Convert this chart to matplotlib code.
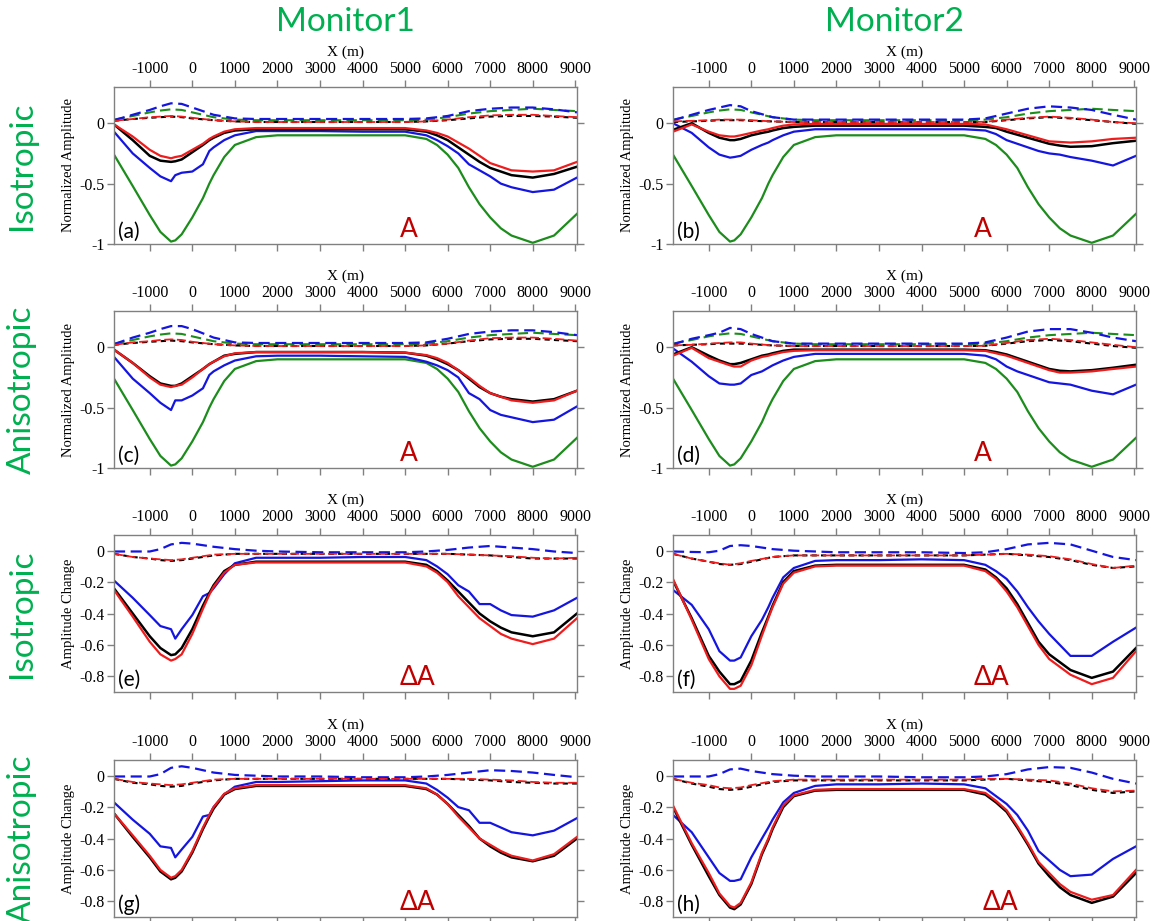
import matplotlib
matplotlib.use("Agg")
import matplotlib.pyplot as plt

plt.rcParams['axes.unicode_minus'] = False
plt.rcParams['font.family'] = ['Liberation Serif', 'DejaVu Serif']

# x positions (m) for the solid curves and for the dashed curves
X = [-1840, -1400, -1000, -750, -500, -400, -250, 0, 250, 400, 500, 750, 1000, 1500, 2000,
     3000, 4000, 5000, 5500, 5750, 6000, 6250, 6500, 6750, 7000, 7250, 7500, 8000, 8500, 9040]
XC = [-1840, -1400, -1000, -750, -500, -250, 0, 500, 1000, 1500, 2000, 3000, 4000, 5000,
      5500, 6000, 6500, 7000, 7500, 8000, 8500, 9040]

# baseline (green) shared by the four amplitude panels
green_a = [-0.26, -0.52, -0.76, -0.90, -0.98, -0.97, -0.92, -0.78, -0.62, -0.50, -0.43, -0.28, -0.18, -0.115, -0.10,
           -0.10, -0.10, -0.10, -0.13, -0.18, -0.26, -0.37, -0.53, -0.67, -0.78, -0.87, -0.93, -0.99, -0.93, -0.75]
green_a_dash = [0.03, 0.06, 0.09, 0.105, 0.115, 0.11, 0.09, 0.05, 0.03, 0.025, 0.025, 0.025, 0.025, 0.025,
                0.03, 0.05, 0.08, 0.10, 0.11, 0.12, 0.11, 0.10]

# (a) isotropic, monitor1
a_blue = [-0.07, -0.25, -0.37, -0.44, -0.48, -0.43, -0.41, -0.40, -0.34, -0.23, -0.20, -0.14, -0.10, -0.065, -0.065,
          -0.065, -0.07, -0.07, -0.10, -0.14, -0.19, -0.25, -0.34, -0.39, -0.44, -0.50, -0.53, -0.57, -0.55, -0.45]
a_black = [-0.01, -0.14, -0.27, -0.31, -0.32, -0.315, -0.30, -0.24, -0.18, -0.14, -0.12, -0.08, -0.06, -0.05, -0.05,
           -0.05, -0.05, -0.05, -0.07, -0.10, -0.14, -0.20, -0.26, -0.32, -0.37, -0.40, -0.43, -0.45, -0.42, -0.36]
a_red = [-0.01, -0.11, -0.22, -0.27, -0.29, -0.28, -0.27, -0.22, -0.17, -0.13, -0.11, -0.07, -0.05, -0.04, -0.04,
         -0.04, -0.04, -0.04, -0.06, -0.08, -0.11, -0.16, -0.21, -0.27, -0.33, -0.36, -0.39, -0.40, -0.39, -0.32]
a_blue_dash = [0.025, 0.07, 0.11, 0.14, 0.165, 0.16, 0.13, 0.07, 0.04, 0.035, 0.035, 0.035, 0.035, 0.035,
               0.04, 0.06, 0.10, 0.12, 0.13, 0.13, 0.115, 0.09]
a_black_dash = [0.02, 0.035, 0.045, 0.05, 0.055, 0.05, 0.04, 0.025, 0.015, 0.01, 0.01, 0.01, 0.01, 0.01,
                0.015, 0.025, 0.04, 0.055, 0.06, 0.06, 0.055, 0.045]
a_red_dash = [0.02, 0.035, 0.05, 0.055, 0.06, 0.055, 0.045, 0.025, 0.015, 0.01, 0.01, 0.01, 0.01, 0.01,
              0.015, 0.03, 0.05, 0.065, 0.07, 0.07, 0.06, 0.05]

# (b) isotropic, monitor2
b_blue = [0.0, -0.08, -0.20, -0.26, -0.285, -0.28, -0.27, -0.22, -0.18, -0.16, -0.14, -0.10, -0.07, -0.05, -0.05,
          -0.05, -0.05, -0.05, -0.06, -0.09, -0.14, -0.17, -0.20, -0.23, -0.25, -0.26, -0.28, -0.31, -0.35, -0.27]
b_black = [-0.055, 0.0, -0.08, -0.12, -0.14, -0.14, -0.13, -0.10, -0.08, -0.07, -0.06, -0.04, -0.03, -0.02, -0.02,
           -0.02, -0.02, -0.02, -0.03, -0.04, -0.07, -0.095, -0.12, -0.145, -0.17, -0.185, -0.195, -0.19, -0.165, -0.145]
b_red = [-0.07, -0.01, -0.07, -0.10, -0.11, -0.11, -0.10, -0.08, -0.06, -0.05, -0.04, -0.02, -0.01, -0.005, -0.005,
         -0.005, -0.005, -0.005, -0.01, -0.03, -0.05, -0.075, -0.10, -0.125, -0.15, -0.155, -0.16, -0.15, -0.13, -0.12]
b_blue_dash = [0.025, 0.07, 0.11, 0.13, 0.15, 0.14, 0.10, 0.05, 0.03, 0.03, 0.03, 0.03, 0.03, 0.03,
               0.04, 0.08, 0.12, 0.14, 0.13, 0.11, 0.07, 0.03]
b_black_dash = [0.01, 0.015, 0.02, 0.025, 0.025, 0.025, 0.02, 0.015, 0.01, 0.01, 0.01, 0.01, 0.01, 0.01,
                0.01, 0.025, 0.04, 0.05, 0.04, 0.025, 0.01, -0.005]
b_red_dash = [0.015, 0.02, 0.025, 0.03, 0.03, 0.03, 0.025, 0.015, 0.01, 0.01, 0.01, 0.01, 0.01, 0.01,
              0.012, 0.03, 0.045, 0.055, 0.045, 0.03, 0.01, 0.0]

# (c) anisotropic, monitor1
c_blue = [-0.08, -0.26, -0.38, -0.46, -0.52, -0.44, -0.44, -0.40, -0.34, -0.23, -0.20, -0.15, -0.11, -0.075, -0.07,
          -0.07, -0.075, -0.08, -0.12, -0.15, -0.19, -0.25, -0.38, -0.43, -0.52, -0.56, -0.58, -0.62, -0.60, -0.49]
c_black = [-0.02, -0.13, -0.24, -0.30, -0.32, -0.32, -0.30, -0.24, -0.18, -0.14, -0.12, -0.07, -0.055, -0.04, -0.04,
           -0.04, -0.04, -0.045, -0.07, -0.10, -0.14, -0.19, -0.26, -0.33, -0.38, -0.41, -0.43, -0.45, -0.43, -0.36]
c_red = [-0.02, -0.13, -0.25, -0.31, -0.33, -0.32, -0.31, -0.25, -0.18, -0.14, -0.12, -0.075, -0.05, -0.04, -0.04,
         -0.04, -0.04, -0.045, -0.065, -0.09, -0.13, -0.19, -0.25, -0.32, -0.38, -0.41, -0.44, -0.46, -0.44, -0.36]
c_blue_dash = [0.025, 0.08, 0.12, 0.15, 0.175, 0.175, 0.15, 0.08, 0.04, 0.035, 0.035, 0.035, 0.035, 0.035,
               0.04, 0.07, 0.11, 0.13, 0.14, 0.14, 0.125, 0.10]
c_black_dash = [0.02, 0.035, 0.045, 0.05, 0.055, 0.05, 0.04, 0.025, 0.015, 0.01, 0.01, 0.01, 0.01, 0.01,
                0.015, 0.03, 0.05, 0.065, 0.07, 0.07, 0.06, 0.05]
c_red_dash = [0.02, 0.04, 0.05, 0.06, 0.065, 0.06, 0.045, 0.025, 0.015, 0.01, 0.01, 0.01, 0.01, 0.01,
              0.015, 0.03, 0.055, 0.075, 0.08, 0.08, 0.07, 0.055]

# (d) anisotropic, monitor2
d_blue = [-0.01, -0.12, -0.24, -0.30, -0.31, -0.31, -0.30, -0.23, -0.20, -0.17, -0.15, -0.11, -0.08, -0.055, -0.055,
          -0.055, -0.055, -0.055, -0.07, -0.10, -0.16, -0.20, -0.23, -0.26, -0.29, -0.30, -0.31, -0.36, -0.39, -0.31]
d_black = [-0.06, 0.0, -0.07, -0.11, -0.14, -0.14, -0.13, -0.10, -0.07, -0.06, -0.05, -0.03, -0.02, -0.02, -0.02,
           -0.02, -0.02, -0.02, -0.025, -0.04, -0.06, -0.09, -0.12, -0.15, -0.18, -0.195, -0.20, -0.19, -0.17, -0.145]
d_red = [-0.07, -0.005, -0.09, -0.12, -0.15, -0.16, -0.16, -0.11, -0.08, -0.07, -0.06, -0.04, -0.03, -0.025, -0.025,
         -0.025, -0.025, -0.025, -0.03, -0.05, -0.07, -0.10, -0.13, -0.16, -0.19, -0.21, -0.21, -0.20, -0.18, -0.16]
d_blue_dash = [0.025, 0.07, 0.10, 0.12, 0.16, 0.15, 0.11, 0.05, 0.03, 0.03, 0.03, 0.03, 0.03, 0.03,
               0.04, 0.08, 0.13, 0.15, 0.15, 0.12, 0.08, 0.05]
d_black_dash = [0.015, 0.02, 0.025, 0.03, 0.03, 0.03, 0.025, 0.015, 0.01, 0.01, 0.01, 0.01, 0.01, 0.01,
                0.012, 0.03, 0.05, 0.06, 0.05, 0.03, 0.01, -0.005]
d_red_dash = [0.015, 0.02, 0.03, 0.035, 0.04, 0.04, 0.03, 0.015, 0.01, 0.01, 0.01, 0.01, 0.01, 0.01,
              0.012, 0.035, 0.06, 0.07, 0.06, 0.04, 0.02, 0.0]

# (e) isotropic, monitor1, amplitude change
e_blue = [-0.19, -0.30, -0.41, -0.48, -0.50, -0.56, -0.50, -0.41, -0.29, -0.27, -0.24, -0.15, -0.08, -0.045, -0.045,
          -0.045, -0.04, -0.04, -0.06, -0.10, -0.15, -0.22, -0.26, -0.34, -0.34, -0.38, -0.41, -0.42, -0.38, -0.30]
e_black = [-0.24, -0.40, -0.545, -0.62, -0.665, -0.66, -0.62, -0.50, -0.35, -0.27, -0.22, -0.13, -0.09, -0.07, -0.07,
           -0.07, -0.07, -0.07, -0.09, -0.13, -0.19, -0.26, -0.33, -0.40, -0.45, -0.49, -0.52, -0.545, -0.52, -0.40]
e_red = [-0.25, -0.42, -0.58, -0.66, -0.70, -0.69, -0.66, -0.53, -0.37, -0.28, -0.23, -0.14, -0.09, -0.075, -0.075,
         -0.075, -0.075, -0.075, -0.10, -0.14, -0.20, -0.29, -0.36, -0.43, -0.48, -0.53, -0.56, -0.595, -0.56, -0.43]
e_blue_dash = [-0.005, -0.005, -0.005, 0.01, 0.04, 0.05, 0.045, 0.025, 0.01, 0.0, -0.005, -0.01, -0.01, -0.01,
               -0.005, 0.005, 0.02, 0.03, 0.02, 0.01, -0.005, -0.015]
e_black_dash = [-0.02, -0.04, -0.05, -0.06, -0.065, -0.06, -0.05, -0.03, -0.02, -0.02, -0.02, -0.02, -0.02, -0.02,
                -0.02, -0.02, -0.025, -0.03, -0.04, -0.05, -0.05, -0.05]
e_red_dash = [-0.02, -0.04, -0.05, -0.055, -0.06, -0.055, -0.045, -0.025, -0.02, -0.02, -0.02, -0.02, -0.02, -0.02,
              -0.02, -0.02, -0.025, -0.03, -0.035, -0.045, -0.05, -0.045]

# (f) isotropic, monitor2, amplitude change
f_blue = [-0.25, -0.345, -0.50, -0.64, -0.70, -0.70, -0.68, -0.545, -0.44, -0.36, -0.30, -0.17, -0.11, -0.065, -0.06,
          -0.06, -0.055, -0.06, -0.09, -0.13, -0.18, -0.26, -0.36, -0.45, -0.53, -0.60, -0.67, -0.67, -0.58, -0.49]
f_black = [-0.19, -0.43, -0.67, -0.77, -0.85, -0.85, -0.83, -0.70, -0.52, -0.42, -0.35, -0.20, -0.13, -0.095, -0.09,
           -0.09, -0.09, -0.09, -0.12, -0.17, -0.24, -0.34, -0.46, -0.58, -0.66, -0.71, -0.76, -0.81, -0.77, -0.62]
f_red = [-0.18, -0.44, -0.69, -0.80, -0.88, -0.88, -0.86, -0.73, -0.54, -0.43, -0.36, -0.21, -0.14, -0.10, -0.095,
         -0.095, -0.095, -0.095, -0.13, -0.18, -0.26, -0.36, -0.48, -0.60, -0.69, -0.74, -0.79, -0.85, -0.81, -0.64]
f_blue_dash = [-0.005, -0.008, -0.01, 0.0, 0.03, 0.035, 0.03, 0.01, 0.0, -0.005, -0.01, -0.01, -0.01, -0.015,
               -0.01, 0.01, 0.04, 0.05, 0.04, 0.0, -0.04, -0.06]
f_black_dash = [-0.02, -0.05, -0.07, -0.085, -0.09, -0.085, -0.07, -0.04, -0.03, -0.03, -0.03, -0.03, -0.03, -0.03,
                -0.025, -0.02, -0.03, -0.04, -0.06, -0.09, -0.11, -0.10]
f_red_dash = [-0.02, -0.05, -0.07, -0.08, -0.09, -0.08, -0.065, -0.04, -0.03, -0.03, -0.03, -0.03, -0.03, -0.03,
              -0.025, -0.02, -0.025, -0.035, -0.055, -0.085, -0.11, -0.095]

# (g) anisotropic, monitor1, amplitude change
g_blue = [-0.17, -0.28, -0.37, -0.45, -0.46, -0.52, -0.47, -0.39, -0.26, -0.25, -0.20, -0.12, -0.07, -0.04, -0.04,
          -0.035, -0.03, -0.03, -0.05, -0.09, -0.14, -0.20, -0.22, -0.30, -0.30, -0.33, -0.36, -0.38, -0.35, -0.27]
g_black = [-0.24, -0.39, -0.52, -0.61, -0.66, -0.65, -0.61, -0.49, -0.34, -0.26, -0.21, -0.12, -0.085, -0.065, -0.065,
           -0.065, -0.065, -0.065, -0.085, -0.12, -0.18, -0.25, -0.32, -0.40, -0.45, -0.49, -0.52, -0.545, -0.51, -0.40]
g_red = [-0.24, -0.38, -0.51, -0.60, -0.65, -0.64, -0.60, -0.48, -0.33, -0.25, -0.20, -0.115, -0.08, -0.06, -0.06,
         -0.06, -0.06, -0.06, -0.08, -0.12, -0.18, -0.26, -0.33, -0.40, -0.44, -0.48, -0.51, -0.54, -0.50, -0.39]
g_blue_dash = [-0.005, -0.005, -0.005, 0.01, 0.05, 0.06, 0.05, 0.02, 0.005, 0.0, -0.005, -0.005, -0.01, -0.01,
               -0.005, 0.005, 0.02, 0.035, 0.03, 0.02, 0.005, -0.01]
g_black_dash = [-0.02, -0.045, -0.055, -0.065, -0.07, -0.065, -0.05, -0.03, -0.02, -0.02, -0.02, -0.02, -0.02, -0.02,
                -0.02, -0.02, -0.025, -0.03, -0.04, -0.045, -0.05, -0.05]
g_red_dash = [-0.02, -0.04, -0.05, -0.055, -0.06, -0.055, -0.045, -0.025, -0.02, -0.02, -0.02, -0.02, -0.02, -0.02,
              -0.02, -0.02, -0.02, -0.025, -0.03, -0.04, -0.045, -0.045]

# (h) anisotropic, monitor2, amplitude change
h_blue = [-0.25, -0.36, -0.52, -0.62, -0.67, -0.67, -0.66, -0.52, -0.40, -0.33, -0.28, -0.17, -0.11, -0.065, -0.055,
          -0.055, -0.05, -0.055, -0.08, -0.13, -0.18, -0.25, -0.35, -0.48, -0.54, -0.60, -0.64, -0.63, -0.53, -0.45]
h_black = [-0.20, -0.44, -0.64, -0.76, -0.84, -0.85, -0.82, -0.69, -0.50, -0.41, -0.34, -0.20, -0.13, -0.095, -0.09,
           -0.09, -0.09, -0.09, -0.12, -0.17, -0.23, -0.33, -0.44, -0.56, -0.64, -0.71, -0.76, -0.81, -0.77, -0.62]
h_red = [-0.19, -0.43, -0.62, -0.75, -0.83, -0.84, -0.81, -0.68, -0.49, -0.40, -0.33, -0.19, -0.125, -0.09, -0.085,
         -0.085, -0.085, -0.085, -0.11, -0.16, -0.22, -0.32, -0.43, -0.55, -0.62, -0.69, -0.74, -0.79, -0.76, -0.60]
h_blue_dash = [-0.005, -0.005, -0.005, 0.01, 0.04, 0.045, 0.03, 0.01, 0.0, -0.005, -0.005, -0.005, -0.01, -0.01,
               -0.005, 0.01, 0.04, 0.055, 0.05, 0.02, -0.02, -0.05]
h_black_dash = [-0.02, -0.05, -0.07, -0.085, -0.09, -0.085, -0.07, -0.04, -0.03, -0.03, -0.03, -0.03, -0.03, -0.03,
                -0.025, -0.02, -0.03, -0.04, -0.06, -0.09, -0.11, -0.10]
h_red_dash = [-0.02, -0.045, -0.06, -0.075, -0.08, -0.075, -0.06, -0.035, -0.025, -0.025, -0.025, -0.025, -0.025,
              -0.025, -0.02, -0.02, -0.025, -0.03, -0.05, -0.08, -0.10, -0.095]

XTICKS = [-1000, 0, 1000, 2000, 3000, 4000, 5000, 6000, 7000, 8000, 9000]
YTICKS_A = [-1, -0.5, 0]
YTICKS_A_LAB = ['-1', '-0.5', '0']
YTICKS_D = [-0.8, -0.6, -0.4, -0.2, 0]
YTICKS_D_LAB = ['-0.8', '-0.6', '-0.4', '-0.2', '0']

BLUE = '#1515e0'
GREEN = '#1c8c1c'
RED = '#ee1c1c'
BLACK = '#000000'
DARKRED = '#c00000'
TITLE_GREEN = '#00b050'
GRAY = '#808080'

SANS = ['Lato', 'Open Sans', 'DejaVu Sans']

# panel table: (letter, column, row, kind, solids, dashes, tag x)
panels = [
    ('a', 0, 0, 'A', (a_blue, a_black, a_red), (a_blue_dash, a_black_dash, a_red_dash), 5100),
    ('b', 1, 0, 'A', (b_blue, b_black, b_red), (b_blue_dash, b_black_dash, b_red_dash), 5450),
    ('c', 0, 1, 'A', (c_blue, c_black, c_red), (c_blue_dash, c_black_dash, c_red_dash), 5100),
    ('d', 1, 1, 'A', (d_blue, d_black, d_red), (d_blue_dash, d_black_dash, d_red_dash), 5450),
    ('e', 0, 2, 'D', (e_blue, e_black, e_red), (e_blue_dash, e_black_dash, e_red_dash), 5300),
    ('f', 1, 2, 'D', (f_blue, f_black, f_red), (f_blue_dash, f_black_dash, f_red_dash), 5650),
    ('g', 0, 3, 'D', (g_blue, g_black, g_red), (g_blue_dash, g_black_dash, g_red_dash), 5300),
    ('h', 1, 3, 'D', (h_blue, h_black, h_red), (h_blue_dash, h_black_dash, h_red_dash), 5850),
]

W, H = 1151, 921
fig = plt.figure(figsize=(W / 100, H / 100), dpi=100)

col_left = [114, 673]
col_width = 463
row_top = [87, 311, 535, 760]
row_height = 157

for letter, col, row, kind, solids, dashes, tag_x in panels:
    rect = [col_left[col] / W, 1 - (row_top[row] + row_height) / H, col_width / W, row_height / H]
    ax = fig.add_axes(rect)

    if kind == 'A':
        ax.plot(X, green_a, color=GREEN, lw=1.6)
    blue, black, red = solids
    ax.plot(X, blue, color=BLUE, lw=1.6)
    ax.plot(X, black, color=BLACK, lw=1.8)
    ax.plot(X, red, color=RED, lw=1.6)

    blue_d, black_d, red_d = dashes
    if kind == 'A':
        ax.plot(XC, green_a_dash, color=GREEN, lw=1.5, dashes=(5, 2.5))
    ax.plot(XC, blue_d, color=BLUE, lw=1.6, dashes=(5, 2.5))
    ax.plot(XC, black_d, color=BLACK, lw=1.5, dashes=(2.5, 2))
    ax.plot(XC, red_d, color=RED, lw=1.3, dashes=(5, 2))

    ax.set_xlim(-1840, 9040)
    if kind == 'A':
        ax.set_ylim(-1, 0.3)
        ax.set_yticks(YTICKS_A)
        ax.set_yticklabels(YTICKS_A_LAB)
        ax.set_ylabel('Normalized Amplitude', fontsize=10.5, labelpad=3)
        tag = 'A'
    else:
        ax.set_ylim(-0.9, 0.1)
        ax.set_yticks(YTICKS_D)
        ax.set_yticklabels(YTICKS_D_LAB)
        ax.set_ylabel('Amplitude Change', fontsize=10.5, labelpad=3)
        tag = 'ΔA'

    ax.set_xticks(XTICKS)
    ax.set_xticklabels([str(t) for t in XTICKS])
    ax.xaxis.set_label_position('top')
    ax.set_xlabel('X (m)', fontsize=11, labelpad=4)
    ax.tick_params(axis='both', which='both', direction='out', length=5, width=1, color=GRAY,
                   top=True, bottom=True, left=True, right=True,
                   labeltop=True, labelbottom=False, labelleft=True, labelright=False,
                   labelsize=11.5, pad=2)
    for sp in ax.spines.values():
        sp.set_color(GRAY)
        sp.set_linewidth(1)

    ax.text(0.008, 0.015, '(' + letter + ')', transform=ax.transAxes, fontsize=15,
            family=SANS, ha='left', va='bottom')
    ax.text(tag_x, 0.015, tag, transform=ax.get_xaxis_transform(), fontsize=19,
            family=SANS, color=DARKRED, ha='center', va='bottom')

# column titles
fig.text(345 / W, 1 - 22 / H, 'Monitor1', fontsize=24, family=SANS, color=TITLE_GREEN,
         ha='center', va='center')
fig.text(895 / W, 1 - 22 / H, 'Monitor2', fontsize=24, family=SANS, color=TITLE_GREEN,
         ha='center', va='center')

# row labels
row_names = ['Isotropic', 'Anisotropic', 'Isotropic', 'Anisotropic']
for row, name in enumerate(row_names):
    yc = row_top[row] + row_height / 2
    fig.text(22 / W, 1 - yc / H, name, fontsize=24, family=SANS, color=TITLE_GREEN,
             rotation=90, ha='center', va='center')

fig.savefig('out.png', dpi=100)
